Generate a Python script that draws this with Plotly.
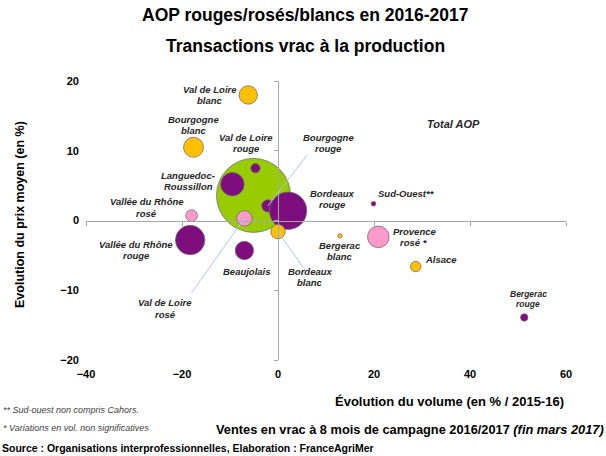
import numpy as np
import plotly.graph_objects as go

# ---------------- data ----------------
names = ["Total AOP", "Val de Loire blanc", "Bourgogne blanc", "Val de Loire rouge",
         "Languedoc-Roussillon", "Vallée du Rhône rosé", "Vallée du Rhône rouge",
         "Val de Loire rosé", "Beaujolais", "Bourgogne rouge", "Bordeaux rouge",
         "Bordeaux blanc", "Bergerac blanc", "Sud-Ouest**", "Provence rosé*",
         "Alsace", "Bergerac rouge"]
label_texts = ["", "Val de Loire<br>blanc", "Bourgogne<br>blanc", "Val de Loire<br>rouge",
               "Languedoc-<br>Roussillon", "Vallée du Rhône<br>rosé", "Vallée du Rhône<br>rouge",
               "Val de Loire<br>rosé", "Beaujolais", "Bourgogne<br>rouge", "Bordeaux<br>rouge",
               "Bordeaux<br>blanc", "Bergerac<br>blanc", "Sud-Ouest**", "Provence<br>rosé *",
               "Alsace", "Bergerac<br>rouge"]
wine_type = ["total", "blanc", "blanc", "rouge", "rouge", "rosé", "rouge", "rosé", "rouge",
             "rouge", "rouge", "blanc", "blanc", "rouge", "rosé", "blanc", "rouge"]
volume_change = [-5.1, -6.2, -17.6, -4.7, -9.5, -18.0, -18.3, -7.0, -7.0, -2.1, 2.1,
                 0.0, 12.9, 19.9, 20.9, 28.7, 51.3]
price_change = [3.6, 18.0, 10.5, 7.5, 5.2, 0.7, -2.8, 0.3, -4.3, 2.1, 1.4,
                -1.6, -2.2, 2.4, -2.35, -6.6, -13.9]
volume = [2000, 124, 146, 32, 203, 50, 316, 87, 124, 56, 511, 76, 7, 8, 170, 40, 20]

x_ticks = [-40, -20, 0, 20, 40, 60]
y_ticks = [-20, -10, 0, 10, 20]

# ---------------- styles ----------------
colors = {"total": "#99CC00", "rouge": "#7E0E7E", "rosé": "#FF99CC", "blanc": "#FFC000"}
draw_order = ["total", "rouge", "rosé", "blanc"]
max_diam = 74
# label offsets in pixels (dx, dy up)
label_offsets = [(0, 0), (-38, 0), (0, 22), (-9, 25), (-44, 3), (-45, 8), (-54, -10),
                 (-79, -90), (3, -21), (61, 63), (44, 12), (32, -45), (0, -15),
                 (33, 10), (36, 0), (25, 7), (4, 18)]
leaders = {"Val de Loire rosé": (-54, 76), "Bourgogne rouge": (41, -53),
           "Bordeaux blanc": (29, 41)}
line_gap = 11.3

diam = max_diam * np.sqrt(np.array(volume) / max(volume))

fig = go.Figure()
for t in draw_order:
    idx = [i for i, w in enumerate(wine_type) if w == t]
    fig.add_trace(go.Scatter(
        x=[volume_change[i] for i in idx], y=[price_change[i] for i in idx],
        mode="markers", name=t, showlegend=False,
        marker=dict(size=[diam[i] for i in idx], sizemode="diameter", sizeref=1,
                    color=colors[t], opacity=1,
                    line=dict(color="#6f6f6f", width=0.8)),
        hovertext=[names[i] for i in idx], xaxis="x", yaxis="y"))

# helper trace on overlay axes (invisible) so they render
fig.add_trace(go.Scatter(x=[0], y=[0], mode="markers", marker=dict(opacity=0),
                         xaxis="x2", yaxis="y2", showlegend=False, hoverinfo="skip"))

label_font = dict(family="Liberation Sans, Arial", size=9.5, color="#262626",
                  style="italic", weight="bold")
for i, txt in enumerate(label_texts):
    if not txt:
        continue
    dx, dy = label_offsets[i]
    f = dict(label_font)
    gap = line_gap
    if names[i] == "Bergerac rouge":
        f["size"] = 8.5
        gap = 10
    lines = txt.split("<br>")
    n = len(lines)
    for k, ln in enumerate(lines):
        off = ((n - 1) / 2 - k) * gap
        fig.add_annotation(x=volume_change[i], y=price_change[i], text=ln, showarrow=False,
                           xshift=dx, yshift=dy + off, font=f, align="center")
    if names[i] in leaders:
        ax, ay = leaders[names[i]]
        fig.add_annotation(x=volume_change[i], y=price_change[i], text="", showarrow=True,
                           arrowhead=0, arrowwidth=1, arrowcolor="#b4c6e4",
                           ax=ax, ay=ay, standoff=0)

# ---------------- layout ----------------
L, R, T, B = 86, 40, 81, 96
W, H = 606, 456
pw, ph = W - L - R, H - T - B

def px(xp):
    return (xp - L) / pw

def py(yp):
    return (H - B - yp) / ph

axis_gray = "#a6a6a6"
fig.update_layout(
    width=W, height=H, margin=dict(l=L, r=R, t=T, b=B),
    plot_bgcolor="white", paper_bgcolor="white",
    font=dict(family="Liberation Sans, Arial", color="black"),
    xaxis=dict(range=[-40, 60], tickvals=x_ticks, showgrid=False, zeroline=False,
               showline=False, ticks="", tickfont=dict(size=11, weight="bold"),
               ticklabelstandoff=6),
    yaxis=dict(range=[-20, 20], tickvals=y_ticks, showgrid=False, zeroline=False,
               showline=False, ticks="", tickfont=dict(size=11, weight="bold"),
               ticklabelstandoff=6),
    xaxis2=dict(range=[-40, 60], tickvals=x_ticks, overlaying="x", anchor="free",
                position=0.5, side="bottom", showticklabels=False, showgrid=False,
                zeroline=False, showline=True, linecolor=axis_gray, linewidth=1.3,
                ticks="outside", ticklen=4, tickcolor=axis_gray, tickwidth=1),
    yaxis2=dict(range=[-20, 20], tickvals=y_ticks, overlaying="y", anchor="free",
                position=0.4, side="left", showticklabels=False, showgrid=False,
                zeroline=False, showline=True, linecolor=axis_gray, linewidth=1.3,
                ticks="outside", ticklen=4, tickcolor=axis_gray, tickwidth=1),
)

def paper_text(xp, yp, text, size, anchor="center", italic=False, bold=True,
               color="black", angle=0):
    fig.add_annotation(xref="paper", yref="paper", x=px(xp), y=py(yp), text=text,
                       showarrow=False, xanchor=anchor, yanchor="middle", textangle=angle,
                       font=dict(family="Liberation Sans, Arial", size=size, color=color,
                                 weight="bold" if bold else "normal",
                                 style="italic" if italic else "normal"))

paper_text(305, 15, "AOP rouges/rosés/blancs en 2016-2017", 17.5)
paper_text(305, 46, "Transactions vrac à la production", 17.5)
paper_text(20, 215, "Evolution du prix moyen (en %)", 12.5, angle=-90)
paper_text(566, 401, "Évolution du volume (en % / 2015-16)", 13, anchor="right")
paper_text(453, 124, "Total AOP", 11, italic=True, color="#262626")
paper_text(1, 410, "** Sud-ouest non compris Cahors.", 9, anchor="left", italic=True,
           bold=False, color="#404040")
paper_text(1, 428, "* Variations en vol. non significatives", 9, anchor="left", italic=True,
           bold=False, color="#404040")
paper_text(606, 429, "Ventes en vrac à 8 mois de campagne 2016/2017 <i>(fin mars 2017)</i>",
           12.8, anchor="right")
paper_text(0, 448, "Source : Organisations interprofessionnelles, Elaboration : FranceAgriMer",
           10.5, anchor="left")

fig.write_html("out.html", config={"displayModeBar": False},
               post_script="document.body.style.margin='0';document.body.style.padding='0';")
